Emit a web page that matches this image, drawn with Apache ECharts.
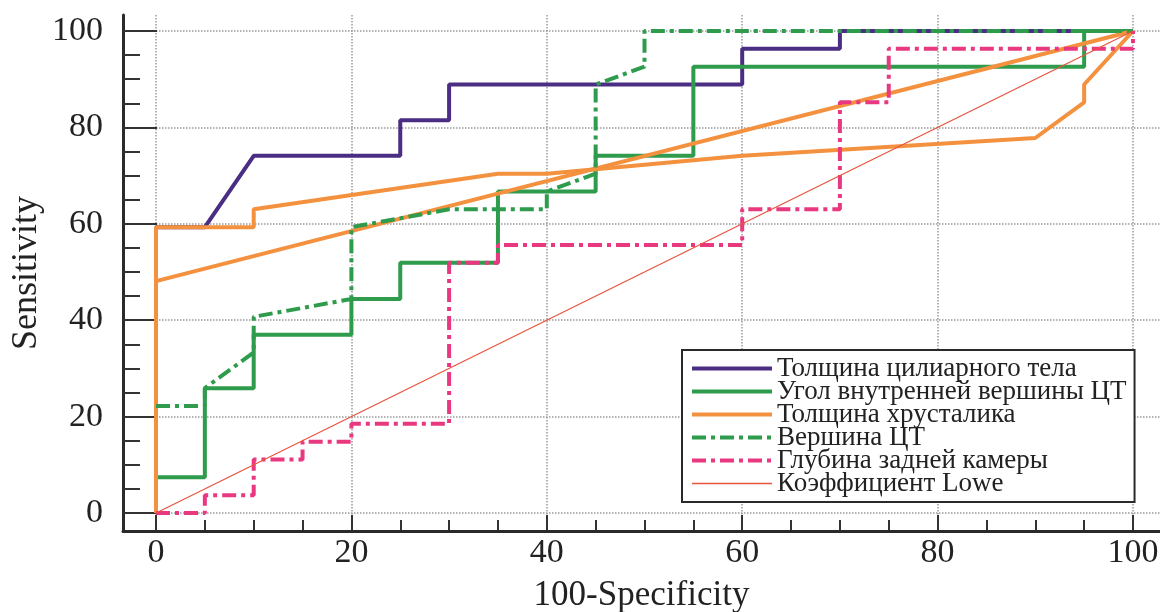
<!DOCTYPE html>
<html><head><meta charset="utf-8">
<script src="https://cdn.jsdelivr.net/npm/echarts@6/dist/echarts.min.js"></script>
<style>html,body{margin:0;padding:0;background:#fff}#c{width:1160px;height:612px}</style>
</head><body><div id="c"></div>
<script>
// ---- data ----
const seriesNames = ['Толщина цилиарного тела','Угол внутренней вершины ЦТ','Толщина хрусталика','Вершина ЦТ','Глубина задней камеры','Коэффициент Lowe'];
const xTickValues = [0,20,40,60,80,100];
const yTickValues = [0,20,40,60,80,100];

const ciliaryX = [0,0,5,10,25,25,30,30,60,60,70,70,100];
const ciliaryY = [0,59.3,59.3,74.1,74.1,81.5,81.5,88.9,88.9,96.3,96.3,100,100];

const angleX = [0,0,5,5,10,10,20,20,25,25,35,35,45,45,55,55,95,95,100];
const angleY = [0,7.4,7.4,25.9,25.9,37.0,37.0,44.4,44.4,51.9,51.9,66.7,66.7,74.1,74.1,92.6,92.6,100,100];

const lensAX = [0,0,10,10,35,40,60,90,95,95,100];
const lensAY = [0,59.3,59.3,63.0,70.4,70.4,74.1,77.8,85.2,88.9,100];
const lensBX = [0,100];
const lensBY = [48.1,100];

const apexX = [0,5,5,10,10,20,20,30,40,40,45,45,50,50,100];
const apexY = [22.2,22.2,25.9,33.3,40.7,44.4,59.3,63.0,63.0,66.7,70.4,88.9,92.6,100,100];

const depthX = [0,5,5,10,10,15,15,20,20,30,30,35,35,60,60,70,70,75,75,100,100];
const depthY = [0,0,3.7,3.7,11.1,11.1,14.8,14.8,18.5,18.5,51.9,51.9,55.6,55.6,63.0,63.0,85.2,85.2,96.3,96.3,100];

const loweX = [0,100];
const loweY = [0,100];

// ---- chart ----
const FONT = 'Liberation Serif';
const pts = (xs, ys) => xs.map((x, i) => [x, ys[i]]);
const DASHDOT = [14, 5, 4, 5];
const legendWidths = [4, 4, 4, 4, 4, 1.5];

function line(name, xs, ys, color, width, type) {
  return {
    type: 'line', name, xAxisIndex: 0, yAxisIndex: 0, data: pts(xs, ys),
    symbol: 'none', showSymbol: false, clip: false, animation: false,
    lineStyle: { color, width, type: type || 'solid' },
    itemStyle: { color }
  };
}

const chart = echarts.init(document.getElementById('c'), null, { renderer: 'canvas' });
chart.setOption({
  animation: false,
  backgroundColor: '#ffffff',
  grid: [
    { left: 156, right: 27, top: 31, bottom: 99, containLabel: false, outerBoundsMode: 'none' },
    { left: 123, right: 0, top: 15, bottom: 81, containLabel: false, outerBoundsMode: 'none' }
  ],
  xAxis: [
    {
      gridIndex: 0, type: 'value', min: 0, max: 100, interval: 20, position: 'bottom', offset: 17,
      axisLine: { show: false, onZero: false },
      axisTick: { show: true, inside: true, length: 15, lineStyle: { color: '#333', width: 2 } },
      minorTick: { show: true, splitNumber: 4, length: 10, lineStyle: { color: '#333', width: 2 } },
      splitLine: { show: false }, minorSplitLine: { show: false },
      axisLabel: { fontFamily: FONT, fontSize: 34, color: '#222', margin: 6 }
    },
    {
      gridIndex: 1, type: 'value', min: -3.38, max: 102.76, position: 'bottom',
      axisLine: { show: true, onZero: false, lineStyle: { color: '#2a2a2a', width: 3 } },
      axisTick: { show: false }, axisLabel: { show: false },
      splitLine: { show: true, showMinLine: false, showMaxLine: false, lineStyle: { color: '#9a9a9a', type: 'dotted', width: 1.5 } },
      name: '100-Specificity', nameLocation: 'middle', nameGap: 47,
      nameTextStyle: { fontFamily: FONT, fontSize: 35, color: '#222' }
    }
  ],
  yAxis: [
    {
      gridIndex: 0, type: 'value', min: 0, max: 100, interval: 20, position: 'left', offset: 33,
      axisLine: { show: false, onZero: false },
      axisTick: { show: true, inside: true, length: 34, lineStyle: { color: '#333', width: 2 } },
      minorTick: { show: true, splitNumber: 4, length: 17, lineStyle: { color: '#333', width: 2 } },
      splitLine: { show: false }, minorSplitLine: { show: false },
      axisLabel: { fontFamily: FONT, fontSize: 34, color: '#222', margin: 20 }
    },
    {
      gridIndex: 1, type: 'value', min: -3.73, max: 103.3, position: 'left',
      axisLine: { show: true, onZero: false, lineStyle: { color: '#2a2a2a', width: 3 } },
      axisTick: { show: false }, axisLabel: { show: false },
      splitLine: { show: true, showMinLine: false, showMaxLine: false, lineStyle: { color: '#9a9a9a', type: 'dotted', width: 1.5 } },
      name: 'Sensitivity', nameLocation: 'middle', nameGap: 78, nameRotate: 90,
      nameTextStyle: { fontFamily: FONT, fontSize: 36, color: '#222' }
    }
  ],
  legend: {
    data: seriesNames.map((n, i) => ({ name: n, lineStyle: { width: legendWidths[i] } })),
    orient: 'vertical', left: 682, top: 350,
    padding: [5, 8, 5, 8],
    itemWidth: 80, itemHeight: 14, itemGap: -4,
    itemStyle: { opacity: 0 },
    backgroundColor: '#ffffff', borderColor: '#2a2a2a', borderWidth: 2,
    textStyle: { fontFamily: FONT, fontSize: 27, lineHeight: 21.5, color: '#222' }
  },
  series: [
    line(seriesNames[0], ciliaryX, ciliaryY, '#4B2E83', 4),
    line(seriesNames[1], angleX, angleY, '#2F9B4C', 4),
    line(seriesNames[2], lensAX, lensAY, '#F4913E', 4),
    line(seriesNames[2], lensBX, lensBY, '#F4913E', 4),
    line(seriesNames[3], apexX, apexY, '#2F9B4C', 4, DASHDOT),
    line(seriesNames[4], depthX, depthY, '#E8387F', 4, DASHDOT),
    line(seriesNames[5], loweX, loweY, '#E8553F', 1.3)
  ]
});
</script>
</body></html>
